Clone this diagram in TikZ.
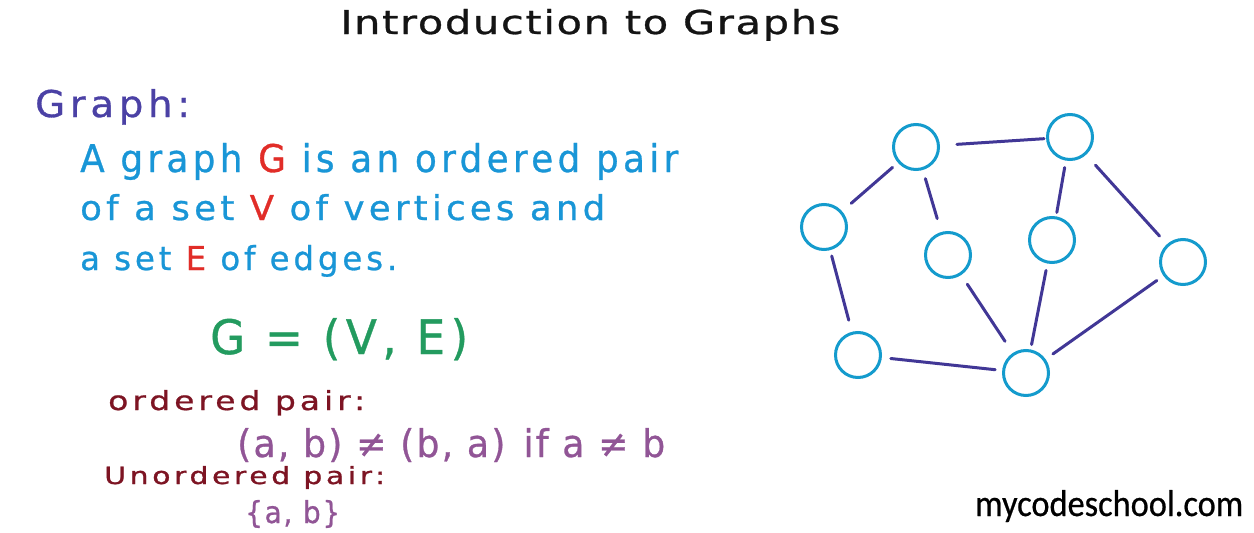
\documentclass[tikz,border=0pt]{standalone}
\usepackage{fontspec}
\usepackage{graphicx}
\setmainfont{DejaVu Sans}
\newfontfamily\hand[LetterSpace=12,FakeBold=0.8]{DejaVu Sans}
\newfontfamily\handt[LetterSpace=4,FakeBold=0.8]{DejaVu Sans}
\newfontfamily\handn[LetterSpace=6,FakeBold=0.8]{DejaVu Sans}
\newfontfamily\logo[FakeBold=0.6]{Carlito}
\newcommand\fitt[3]{\resizebox{#1pt}{#2pt}{#3}}
\definecolor{ctitle}{RGB}{20,20,20}
\definecolor{cgraph}{RGB}{75,65,165}
\definecolor{cblue}{RGB}{25,150,215}
\definecolor{cred}{RGB}{225,45,40}
\definecolor{cgreen}{RGB}{35,155,95}
\definecolor{cdark}{RGB}{125,20,35}
\definecolor{cpurple}{RGB}{145,85,150}
\definecolor{ccircle}{RGB}{20,155,205}
\definecolor{cedge}{RGB}{65,55,150}
\tikzset{
  vert/.style={circle, draw=ccircle, line width=3pt, minimum size=45pt, inner sep=0pt},
  edge/.style={draw=cedge, line width=3pt, line cap=round},
  txt/.style={anchor=base west, inner sep=0pt, font=\hand},
  txtt/.style={anchor=base west, inner sep=0pt, font=\handt},
  txtn/.style={anchor=base west, inner sep=0pt, font=\handn},
}
\begin{document}
\begin{tikzpicture}[x=1pt,y=-1pt]
\useasboundingbox[fill=white] (0,0) rectangle (1254,533);
% texts
\node[txtt, text=ctitle] (title) at (340,34) {\fitt{500}{25}{Introduction to Graphs}};
\node[txt, text=cgraph] (graph) at (35,117) {\fitt{155}{28}{Graph:}};
\node[txt, text=cblue] (l1) at (80,172) {\fitt{598}{29}{A graph \textcolor{cred}{G} is an ordered pair}};
\node[txt, text=cblue] (l2) at (80,220) {\fitt{525}{26}{of a set \textcolor{cred}{V} of vertices and}};
\node[txt, text=cblue] (l3) at (80,270) {\fitt{317}{25}{a set \textcolor{cred}{E} of edges.}};
\node[txt, text=cgreen] (eq) at (210,354) {\fitt{258}{36}{G = (V, E)}};
\node[txt, text=cdark] (op) at (108,410) {\fitt{257}{20}{ordered pair:}};
\node[txtn, text=cpurple] (ne) at (237,457) {\fitt{428}{29}{(a, b) ≠ (b, a)\enspace if a ≠ b}};
\node[txt, text=cdark] (up) at (104,484) {\fitt{281}{18}{Unordered pair:}};
\node[txtn, text=cpurple] (set) at (245,523) {\fitt{95}{23}{\{a, b\}}};
\node[anchor=base west, inner sep=0pt, text=black, font=\logo] (logo) at (975,516) {\fitt{268}{26}{mycodeschool.com}};
% graph
\node[vert] (A) at (916,147) {};
\node[vert] (B) at (1070,137) {};
\node[vert] (C) at (824,227) {};
\node[vert] (D) at (948,255) {};
\node[vert] (E) at (1052,240) {};
\node[vert] (F) at (1183,262) {};
\node[vert] (G) at (858,355) {};
\node[vert] (H) at (1026,373) {};
\draw[edge, shorten <=17pt, shorten >=2pt] (A) -- (B);
\draw[edge, shorten <=7pt, shorten >=12pt] (A) -- (C);
\draw[edge, shorten <=9pt, shorten >=14pt] (A) -- (D);
\draw[edge, shorten <=7pt, shorten >=4pt] (B) -- (E);
\draw[edge, shorten <=14pt, shorten >=11pt] (B) -- (F);
\draw[edge, shorten <=6pt, shorten >=12pt] (C) -- (G);
\draw[edge, shorten <=11pt, shorten >=14pt] (D) -- (H);
\draw[edge, shorten <=7pt, shorten >=5pt] (E) -- (H);
\draw[edge, shorten <=8pt, shorten >=9pt] (F) -- (H);
\draw[edge, shorten <=9pt, shorten >=7pt] (G) -- (H);
\end{tikzpicture}
\end{document}
